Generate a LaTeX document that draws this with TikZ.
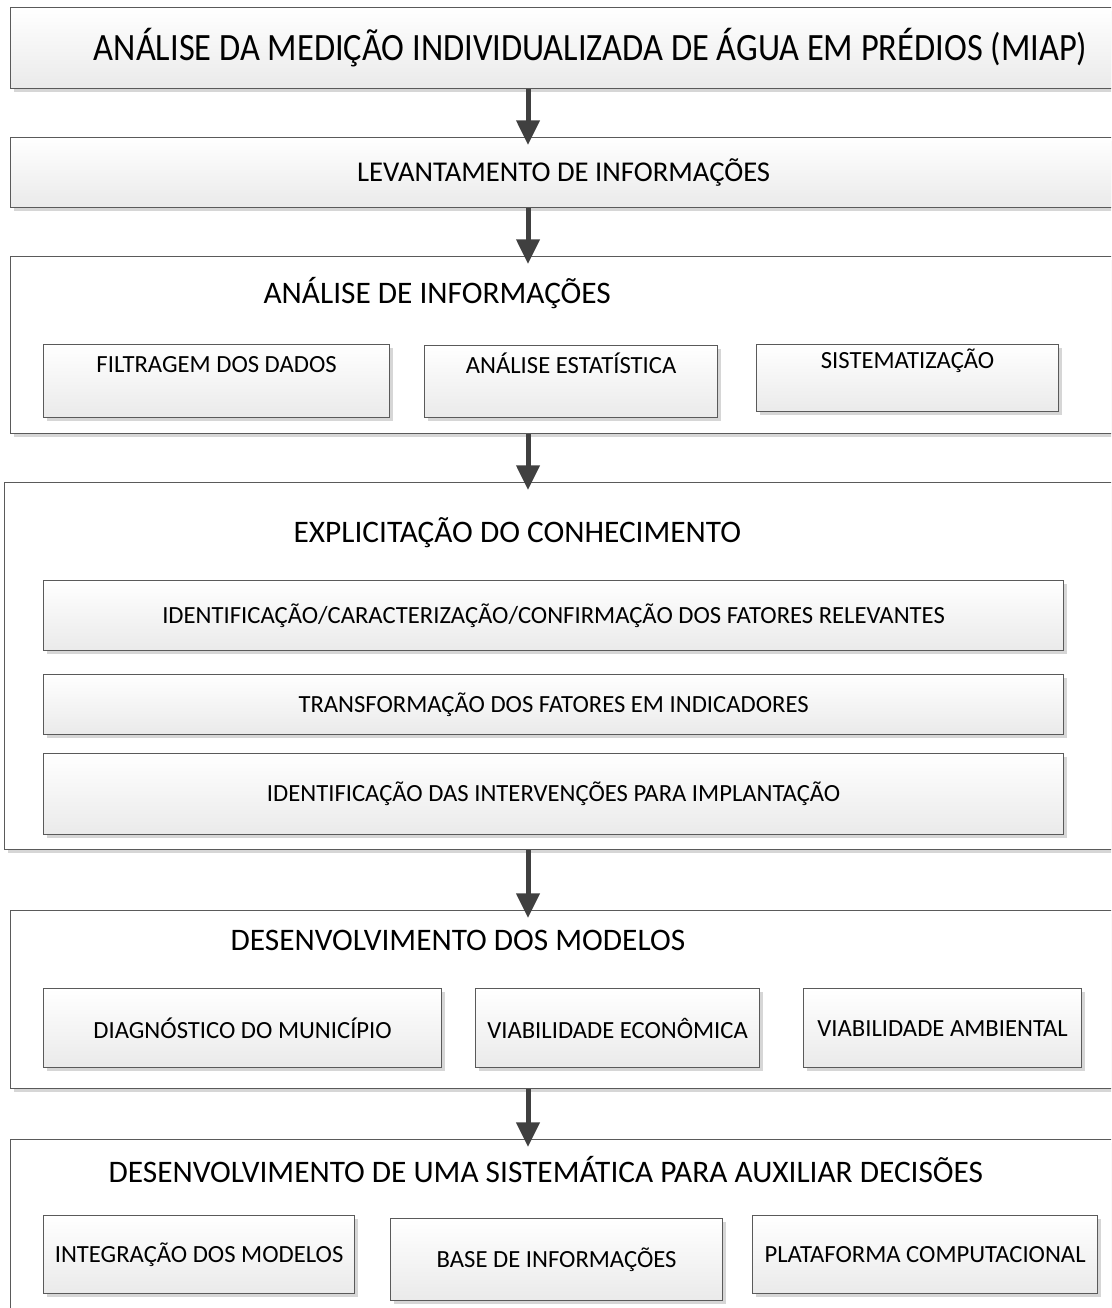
\documentclass[tikz,border=0pt]{standalone}
\usepackage{fontspec}
\setmainfont{Carlito}
\usetikzlibrary{arrows.meta,shadows}

\definecolor{edgegray}{RGB}{90,90,90}
\definecolor{arrowgray}{RGB}{64,64,64}
\definecolor{shadowgray}{RGB}{214,214,214}
\definecolor{fillbottom}{RGB}{234,234,234}

\tikzset{every picture/.style={line width=0.9pt}}
\tikzset{
  boxshadow/.style={drop shadow={shadow xshift=2.25pt, shadow yshift=-2.25pt, fill=shadowgray, opacity=1}},
  stagebox/.style={draw=edgegray, top color=white, bottom color=fillbottom, anchor=north west, inner sep=0pt, boxshadow},
  groupbox/.style={draw=edgegray, fill=white, anchor=north west, inner sep=0pt, boxshadow},
  grouptitle/.style={anchor=west, inner sep=0pt, font=\fontsize{23.5}{28}\selectfont},
  smalltxt/.style={font=\fontsize{18.5}{22}\selectfont},
  flow/.style={draw=arrowgray, line width=3.75pt, -{Triangle[width=17pt,length=18.5pt]}, shorten >=-6pt}
}

\begin{document}
\begin{tikzpicture}[x=0.75pt,y=0.75pt,yscale=-1,xscale=1]
\clip (0,0) rectangle (1111,1308);
\coordinate (axis) at (528,0);

% Stages
\node[stagebox, minimum width=870pt, minimum height=60.75pt, font=\fontsize{29}{34}\selectfont\addfontfeature{FakeStretch=0.89}] (miap) at (10,7) {ANÁLISE DA MEDIÇÃO INDIVIDUALIZADA DE ÁGUA EM PRÉDIOS (MIAP)};
\node[stagebox, minimum width=829.5pt, minimum height=52.5pt, font=\fontsize{21.5}{25}\selectfont] (levant) at (10,137) {LEVANTAMENTO DE INFORMAÇÕES};

% Groups
\node[groupbox, minimum width=836.25pt, minimum height=132.75pt] (analise) at (10,256) {};
\node[groupbox, minimum width=840.75pt, minimum height=275.25pt] (explic) at (4,482) {};
\node[groupbox, minimum width=836.25pt, minimum height=133.5pt] (desmod) at (10,910) {};
\node[groupbox, minimum width=836.25pt, minimum height=150.75pt] (sistem) at (10,1139) {};

% Text Node
\node[grouptitle] (analisetitle) at (263,293) {ANÁLISE DE INFORMAÇÕES};
\node[grouptitle] (explictitle) at (293,533) {EXPLICITAÇÃO DO CONHECIMENTO};
\node[grouptitle] (desmodtitle) at (230,940) {DESENVOLVIMENTO DOS MODELOS};
\node[grouptitle] (sistemtitle) at (108,1170) {DESENVOLVIMENTO DE UMA SISTEMÁTICA PARA AUXILIAR DECISÕES};

% Análise de informações
\node[stagebox, smalltxt, minimum width=259.5pt, text height=21pt, text depth=33.75pt] (filtr) at (43,344) {FILTRAGEM DOS DADOS};
\node[stagebox, smalltxt, minimum width=219.75pt, text height=21pt, text depth=33pt] (estat) at (424,345) {ANÁLISE ESTATÍSTICA};
\node[stagebox, smalltxt, minimum width=226.5pt, text height=18pt, text depth=32.25pt] (siste) at (756,344) {SISTEMATIZAÇÃO};

% Explicitação do conhecimento
\node[stagebox, smalltxt, minimum width=765pt, minimum height=52.5pt] (fatores) at (43,580) {IDENTIFICAÇÃO/CARACTERIZAÇÃO/CONFIRMAÇÃO DOS FATORES RELEVANTES};
\node[stagebox, smalltxt, minimum width=765pt, minimum height=45pt] (indic) at (43,674) {TRANSFORMAÇÃO DOS FATORES EM INDICADORES};
\node[stagebox, smalltxt, minimum width=765pt, minimum height=60.75pt] (interv) at (43,753) {IDENTIFICAÇÃO DAS INTERVENÇÕES PARA IMPLANTAÇÃO};

% Desenvolvimento dos modelos
\node[stagebox, smalltxt, minimum width=298.5pt, minimum height=59.25pt] (diag) at (43,988) {DIAGNÓSTICO DO MUNICÍPIO};
\node[stagebox, smalltxt, minimum width=213pt, minimum height=59.25pt] (econ) at (475,988) {VIABILIDADE ECONÔMICA};
\node[stagebox, smalltxt, minimum width=208.5pt, minimum height=59.25pt] (amb) at (803,988) {VIABILIDADE AMBIENTAL};

% Sistemática
\node[stagebox, smalltxt, minimum width=233.25pt, minimum height=58.5pt] (integ) at (43,1215) {INTEGRAÇÃO DOS MODELOS};
\node[stagebox, smalltxt, minimum width=249pt, minimum height=61.5pt] (base) at (390,1218) {BASE DE INFORMAÇÕES};
\node[stagebox, smalltxt, minimum width=258.75pt, minimum height=58.5pt] (plat) at (752,1215) {PLATAFORMA COMPUTACIONAL};

% Arrows
\draw[flow] (miap.south -| axis) -- (levant.north -| axis);
\draw[flow] (levant.south -| axis) -- (analise.north -| axis);
\draw[flow] (analise.south -| axis) -- (explic.north -| axis);
\draw[flow] (explic.south -| axis) -- (desmod.north -| axis);
\draw[flow] (desmod.south -| axis) -- (sistem.north -| axis);

\end{tikzpicture}
\end{document}
